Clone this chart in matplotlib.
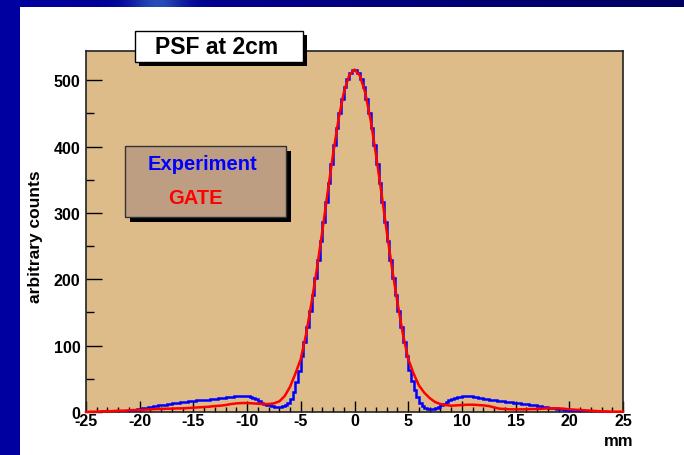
import numpy as np
import matplotlib
matplotlib.use('Agg')
import matplotlib.pyplot as plt
from matplotlib.patches import Rectangle

plt.rcParams['font.family'] = ['Liberation Sans', 'DejaVu Sans']
plt.rcParams['font.weight'] = 'bold'
plt.rcParams['axes.unicode_minus'] = False  # plain hyphen like the original

# Experiment: histogram, 200 bins of 0.25 mm from -25 to 25 mm
x_lo, x_hi, n_bins = -25, 25, 200
blue_counts = [
    0, 0, 0.5, 0.5,  0.5, 0.5, 1, 1,  1, 1, 1, 1.5,  1.5, 1.5, 2, 2,          # -25..-21
    2.5, 3, 3.5, 4,  4.5, 5.5, 6, 7,  7.5, 8.5, 9, 10,  10.5, 11, 12, 12.5,   # -21..-17
    13, 13.5, 14, 14.5,  15, 15.5, 16, 16.5,  17, 17.5, 17.5, 18,  18.5, 18.5, 19, 19.5,  # -17..-13
    20, 20.5, 21, 21.5,  22, 22.5, 23, 23.5,  24, 24, 24, 24,  23.5, 22.5, 21.5, 20,     # -13..-9
    16, 14, 12.5, 11,  10, 8.5, 7.5, 7,  7.5, 8.5, 11, 14,  20, 30, 45, 62,   # -9..-5
    85, 105, 128, 152,  177, 202, 229, 257,  286, 316, 345, 374,  402, 428, 451, 472,  # -5..-1
    489, 502, 511, 515,  515, 511, 502, 489,                                  # -1..1
    472, 451, 428, 402,  374, 345, 316, 286,  257, 229, 202, 177,  152, 128, 105, 85,  # 1..5
    64, 47, 33, 22,  14, 9, 6, 5,  4.5, 4.5, 5.5, 8,  10, 12.5, 15, 17.5,     # 5..9
    19.5, 21, 22, 23,  23.5, 24, 24, 23.5,  23, 22, 21.5, 20.5,  20, 19, 18.5, 18,  # 9..13
    17.5, 17, 16.5, 16,  15.5, 15, 14.5, 14,  13.5, 13, 12.5, 12,  11.5, 11, 10.5, 10,  # 13..17
    9.5, 8.5, 8, 7,  6.5, 6, 5.5, 5,  4.5, 4, 3.5, 3,  2.5, 2, 2, 1.5,       # 17..21
    1.5, 1.5, 1, 1,  1, 1, 0.5, 0.5,  0.5, 0.5, 0.5, 0,  0, 0, 0, 0,         # 21..25
]

# GATE: smooth curve sampled every 0.5 mm
red_x = np.arange(-25, 25.01, 0.5)
red_y = [
    0, 0.5, 0.5, 1, 1, 1.5, 2, 2, 2.5, 3,                 # -25 .. -20.5
    3, 3.5, 4, 4.5, 4.5, 5, 5, 5.5, 5.5, 6,               # -20 .. -15.5
    6.5, 7, 7.5, 8, 9, 9.5, 10.5, 12, 13, 13.5,           # -15 .. -10.5
    13.5, 13, 12.5, 12, 12, 13, 16, 24, 38, 58,           # -10 .. -5.5
    80, 118, 165, 216, 272, 331, 388, 440, 481, 507,      # -5 .. -0.5
    516,                                                  # 0
    507, 481, 440, 388, 331, 272, 216, 165, 118, 80,      # 0.5 .. 5
    58, 40, 29, 21, 15, 12, 10.5, 9.5, 10, 10.5,          # 5.5 .. 10
    11, 11, 10.5, 10, 9, 7, 5, 4.5, 4, 4,                 # 10.5 .. 15
    4, 4, 4.5, 4.5, 5, 5.5, 5.5, 5.5, 5, 4,               # 15.5 .. 20
    3.5, 3, 2.5, 2, 1.5, 1, 1, 0.5, 0.5, 0.5,             # 20.5 .. 25
]

W, H = 684, 456
fig = plt.figure(figsize=(W / 100, H / 100), dpi=100, facecolor='white')


def fx(px):
    return px / W


def fy(py):
    return 1 - py / H


def box(x0, y0, x1, y1, **kw):
    r = Rectangle((fx(x0), fy(y1)), fx(x1) - fx(x0), fy(y0) - fy(y1),
                  transform=fig.transFigure, **kw)
    fig.add_artist(r)
    return r


# slide background: blue strip on the left, gradient band on top
box(0, 0, 20, H, facecolor='#0000A0', edgecolor='none', zorder=0)
band = fig.add_axes([0, fy(8), 1, 8 / H], zorder=0)
band.axis('off')
grad = np.linspace(0, 1, 300)
cols = np.zeros((1, 300, 3))
cols[0, :, 2] = 0.63 - 0.25 * grad
streak = np.exp(-((grad - 0.23) / 0.04) ** 2)
cols[0, :, 0] += 0.15 * streak
cols[0, :, 1] += 0.3 * streak
cols[0, :, 2] += 0.15 * streak
band.imshow(cols, aspect='auto', extent=[0, 1, 0, 1])

# main plot frame
ax = fig.add_axes([fx(86), fy(413), fx(623) - fx(86), fy(52) - fy(413)])
ax.set_facecolor('#DEBC89')
edges = np.linspace(x_lo, x_hi, n_bins + 1)
ax.stairs(blue_counts, edges, color='#0000FF', lw=1.8, baseline=None, zorder=3)
ax.plot(red_x, red_y, color='#FF0000', lw=1.8, zorder=4, clip_on=False)

ax.set_xlim(-25, 25)
ax.set_ylim(0, 544)
ax.set_xticks(range(-25, 26, 5))
ax.set_xticks(range(-25, 26, 1), minor=True)
ax.set_yticks(range(0, 501, 100))
ax.set_yticks(range(0, 544, 50), minor=True)
ax.tick_params(axis='x', which='major', direction='in', length=7.8, width=1,
               labelsize=11.5, pad=1)
ax.tick_params(axis='x', which='minor', direction='in', length=3.9, width=1)
ax.tick_params(axis='y', which='major', direction='in', length=11.5, width=1,
               labelsize=11.5, pad=4)
ax.tick_params(axis='y', which='minor', direction='in', length=5.8, width=1)
for lab in ax.get_xticklabels() + ax.get_yticklabels():
    lab.set_fontweight('bold')
for s in ax.spines.values():
    s.set_linewidth(1.2)
    s.set_color('#222222')

fig.text(fx(35.5), fy(237), 'arbitrary counts', rotation=90, ha='center',
         va='center', fontsize=12.5, fontweight='bold')
fig.text(fx(633), fy(442), 'mm', ha='right', va='center', fontsize=12,
         fontweight='bold')

# title box with shadow
box(139, 36, 307, 67, facecolor='black', edgecolor='none', zorder=5)
box(135, 32, 303, 63, facecolor='white', edgecolor='black', lw=1, zorder=6)
fig.text(fx(217), fy(48), 'PSF at 2cm', ha='center', va='center',
         fontsize=16.5, fontweight='bold', zorder=7)

# legend box with shadow
box(130, 152, 291, 223, facecolor='black', edgecolor='none', zorder=5)
box(125, 147, 286, 218, facecolor='#BE9E82', edgecolor='#333333', lw=1, zorder=6)
fig.text(fx(202), fy(165), 'Experiment', color='#0000FF', ha='center',
         va='center', fontsize=14.5, fontweight='bold', zorder=7)
fig.text(fx(195.5), fy(198), 'GATE', color='#FF0000', ha='center',
         va='center', fontsize=14.5, fontweight='bold', zorder=7)

fig.savefig('out.png', dpi=100)
